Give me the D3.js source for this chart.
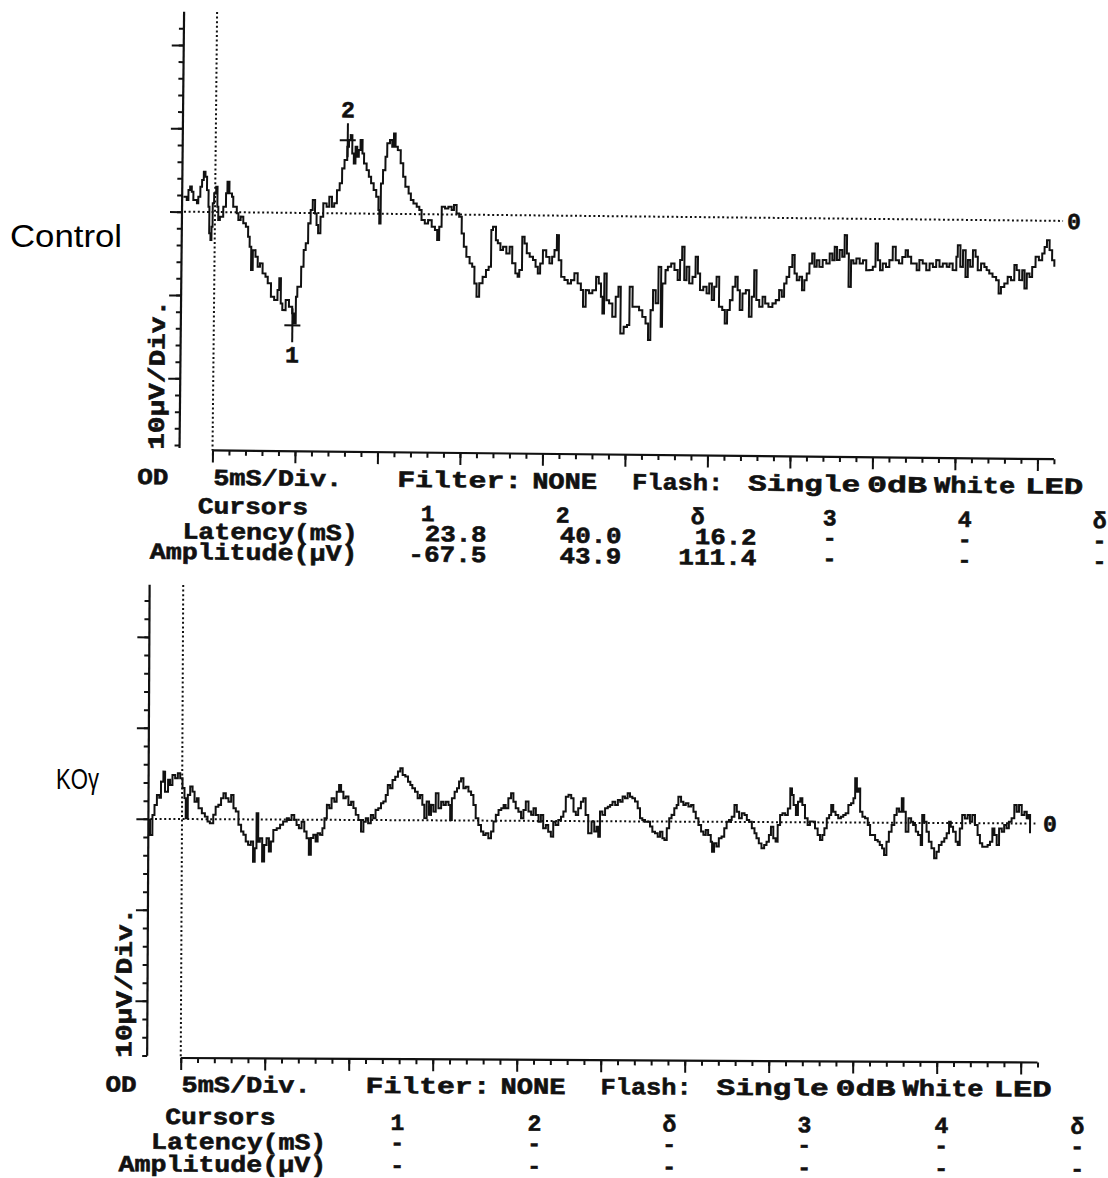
<!DOCTYPE html>
<html>
<head>
<meta charset="UTF-8"/>
<script src="https://cdn.jsdelivr.net/npm/d3@7"></script>
<style>
  body { margin: 0; background: #fff; }
  .mono { font-family: "Liberation Mono", "DejaVu Sans Mono", monospace; font-weight: bold;
          fill: #111; stroke: #111; stroke-width: 0.6; }
  .side { font-family: "Liberation Sans", Arial, sans-serif; fill: #000; }
  .trace { fill: none; stroke: #111; stroke-width: 2; stroke-linejoin: miter; }
  .axisline { stroke: #111; stroke-width: 2.2; }
  .ax line { stroke: #111; stroke-width: 2; }
  .dots { stroke: #111; stroke-width: 2; stroke-dasharray: 2 2.6; }
  .mark { stroke: #111; stroke-width: 2; }
</style>
</head>
<body>
<svg id="fig" width="1108" height="1178"></svg>
<script>
// ---- data: [time (ms), amplitude (uV)]
const controlTrace = [[-9.6,9],[-8.6,7],[-8.1,13],[-7.6,15.2],[-7.1,12],[-6.6,7.1],[-5.5,5.1],[-5.1,9.1],[-4.5,15.1],[-4,19.1],[-3.5,24.1],[-3,21.1],[-2.5,13.1],[-2,3.1],[-1.7,-12.8],[-1.3,-16.8],[-1,-8.8],[-0.7,5.2],[-0.3,11.2],[0.3,15.2],[0.7,3.2],[1,-4.8],[1.5,-2.8],[2.5,3.2],[3.3,11.3],[3.7,18.3],[4.3,11.3],[5.1,9.3],[5.5,3.3],[6.6,-0.6],[7.1,-4.6],[7.8,-2.6],[8.6,-6.6],[9.4,-8.6],
[10.1,-14.6],[10.6,-20.6],[11.1,-34.6],[11.6,-22.6],[12.4,-26.6],[13.1,-32.5],[13.8,-30.5],[14.6,-36.5],[15.5,-38.5],[16.2,-42.4],[17.2,-50.5],[18.2,-52.4],[19.2,-46.4],[19.7,-39.3],[20.2,-54.4],[20.7,-58.4],[21.7,-52.3],[22.7,-56.3],[23.7,-60.3],[24.2,-66.3],[24.8,-50.3],[25.2,-44.3],[26.3,-32.3],[27,-22.2],[27.6,-18.2],[28.3,-6.2],[29,1.8],[29.6,7.8],[30.3,-0.2],[30.8,-7.2],[31.3,-12.1],[32,-2.2],[32.8,5.9],[33.8,3.9],[34.6,9.9],[35.4,3.9],[36.1,6],[36.9,13.9],[37.7,18],[38.4,27],[39.1,32],[39.9,40],[40.4,44],[40.9,47],[41.4,36],[41.9,30],[42.4,40],[42.9,34],[43.4,38.1],[43.9,44.1],[44.5,36.1],[45,30.1],[45.8,26.1],[46.5,22.1],[47.2,18.2],[48,14.2],[48.8,10.2],[49.5,2.2],[49.8,-5.8],[50.2,18.2],[50.8,26.2],[51.5,34.2],[52,42.3],[52.8,44.3],[53.5,40.3],[54,48.3],[54.5,40.3],[55.2,38.3],[56.1,30.4],[56.9,22.4],[57.6,16.4],[58.6,12.4],[59.3,8.4],[60.1,6.4],[61.1,4.4],[61.9,2.5],[62.6,-3.5],[63.6,-5.5],[64.6,-3.5],[65.7,-7.5],[66.7,-9.4],[67.4,-15.4],[68,-7.4],[68.7,4.6],[69.7,3.6],[70.7,4.6],[71.7,2.7],[72.4,5.7],[73.2,0.7],[74,-1.3],[74.8,-11.3],[75.5,-19.3],[76.3,-25.3],[77.3,-29.2],[78.1,-31.2],[78.8,-41.2],[79.5,-49.2],[80.3,-41.1],[81.3,-37.2],[82.3,-33.1],[83.1,-31.1],[83.8,-9.1],[84.3,-7.1],[85.2,-15.1],[85.8,-17],[86.6,-21],[87.4,-19],[88.4,-23],[89.4,-19],[90.2,-28.9],[91.2,-34.9],[91.9,-36.9],[92.4,-32.9],[93.2,-12.9],[93.9,-16.9],[94.6,-22.8],[95.5,-24.8],[96.5,-26.8],[97.3,-30.8],[98,-34.8],[98.7,-28.8],[99.5,-20.8],[100.5,-24.8],[101.5,-28.7],[102.3,-24.7],[103,-20.7],[103.7,-11.7],[104.3,-26.7],[105.1,-36.7],[106.1,-38.6],[107.1,-40.6],[108.1,-38.6],[109.1,-34.5],[110.1,-40.5],[111.1,-44.5],[111.8,-54.5],[112.6,-44.5],[113.6,-46.4],[114.6,-44.5],[115.7,-36.5],[116.5,-40.4],[117.2,-48.4],[117.7,-58.4],[118.2,-34.4],[118.9,-50.4],[119.7,-52.3],[120.7,-60.3],[121.7,-48.3],[122.5,-42.3],
[123.2,-70.3],[124.2,-66.3],[125.2,-65.2],[125.9,-42.2],[126.8,-54.2],[127.8,-54.2],[128.8,-56.2],[129.8,-60.2],[130.8,-64.1],[131.6,-74.1],[132.3,-56.1],[133,-44.1],[133.8,-52],[134.6,-30.1],[135.4,-66],[135.8,-40],[136.7,-32],[137.4,-30],[138.4,-28],[139.4,-31.9],[140.4,-37.9],[141.1,-25.9],[141.7,-17.9],[142.4,-37.9],[143.1,-29.9],[143.9,-39.8],[144.9,-35.9],[145.8,-23.8],[146.5,-33.8],[147.2,-43.8],[148.2,-41.8],[149.2,-45.7],[150,-39.7],[150.8,-49.7],[151.5,-41.7],[152.2,-35.7],[153,-53.7],[154,-55.6],[154.8,-63.6],[155.5,-55.6],[156.3,-49.6],[157.1,-41.6],[157.9,-35.6],[158.6,-43.6],[159.3,-55.5],[160.1,-45.5],[161.1,-43.5],[162.1,-59.5],[162.9,-47.5],[163.6,-31.5],[164.3,-49.4],[165.2,-53.4],[166.2,-47.4],[167,-51.4],[168,-53.4],[169.2,-51.3],[170.2,-49.3],[171.2,-43.3],[172,-47.3],[172.7,-39.3],[173.4,-35.3],[174.2,-29.3],[175.1,-22.2],[175.8,-33.2],[176.5,-37.2],[177.3,-35.2],[178.1,-43.2],[178.8,-37.2],[179.5,-33.1],[180.3,-27.1],[181.1,-21.1],[181.8,-29.1],[182.5,-25.1],[183.3,-29.1],[184.3,-25],[185.4,-27],[186.4,-21],[187.2,-25],[187.9,-17],[188.6,-24.9],[189.4,-18.9],[190.2,-22.9],[190.9,-9.9],[191.6,-20.9],[192.2,-40.9],[192.9,-24.9],[193.6,-26.8],[194.5,-23.8],[195.5,-26.8],[196.5,-24.8],[197.5,-30.8],[198.5,-30.7],[199.5,-28.7],[200.3,-14.7],[201,-24.7],[201.7,-30.7],[202.5,-26.7],[203.5,-28.7],[204.5,-24.6],[205.5,-16.6],[206.4,-24.6],[207.4,-26.5],[208.4,-22.6],[209.4,-18.6],[210.1,-22.5],[211.1,-26.5],[212.1,-26.5],[212.8,-30.5],[213.6,-24.4],[214.6,-26.4],[215.7,-30.4],[216.7,-26.4],[217.7,-28.4],[218.7,-24.3],[219.7,-28.3],[220.7,-26.3],[221.9,-28.3],[222.7,-26.2],[223.7,-30.2],[224.8,-22.2],[225.2,-15.2],[226,-28.2],[226.8,-18.2],[227.6,-34.2],[228.3,-24.1],[229,-28.1],[229.8,-18.1],[230.6,-22.1],[231.3,-30.1],[232.3,-26],[233.3,-28.1],[234,-30],[234.8,-32],[235.8,-34],[236.9,-36],[237.7,-43.9],[238.4,-40],[239.4,-37.9],[240.4,-33.9],[241.4,-35.9],[242.4,-26.8],[243.1,-29.8],[243.9,-35.8],[244.8,-29.8],[245.5,-40.8],[246.2,-31.8],[247,-33.8],[247.8,-27.8],[248.8,-21.7],[249.8,-23.7],[250.8,-19.7],[251.5,-15.7],[252.2,-11.7],[253,-17.6],[253.8,-23.6],[254.5,-27.6]];

const koTrace = [[-10.1,-0.5],[-9.5,-8.8],[-8.8,2.2],[-8.2,7.7],[-7.5,13.2],[-6.8,11.6],[-6.3,20.5],[-5.6,26],[-5.1,15],[-4.2,21.5],[-3.6,18.7],[-2.9,24.2],[-2.1,22.4],[-1.3,25.2],[-0.6,22.4],[0.1,17],[0.7,11.5],[1.1,0.5],[1.7,13.3],[2.4,17.9],[3.1,15.1],[3.7,9.6],[4.4,11.5],[4.9,6],[5.9,3.3],[6.8,1.4],[7.6,-1.3],[8.3,-2.2],[9.3,2.4],[10,6.9],[10.8,7.9],[11.6,11.6],[12.3,14.3],[13,11.6],[13.8,9.7],[14.6,13.4],[15.3,6.1],[16,4.3],[16.8,-3],[17.6,-6.7],[18.3,-8.5],[19,-12.2],[19.7,-14],[20.5,-12.2],[21.2,-23.2],[21.7,-15.8],[22.2,3.4],[22.7,-12.2],[23.2,-10.3],[23.9,-23.1],[24.5,-14],[25.2,-10.3],[25.9,-17.6],[26.5,-12.1],[27.2,-5.7],[28.2,-4.8],[29.2,-2.9],[30.1,-1.1],[31.2,0.8],[31.8,-0.2],[32.6,2.6],[33.4,-0.1],[34.1,-2.9],[34.8,-4.7],[35.6,-1.1],[36.4,-6.5],[37.1,-10.2],[37.8,-19.3],[38.4,-10.1],[39.1,-8.3],[39.8,-12],[40.4,-7.4],[41.1,-8.3],[41.8,-4.6],[42.4,0.9],[43.1,8.2],[43.8,6.4],[44.5,11.9],[45.3,10],[46,15.5],[46.7,19.2],[47.3,15.5],[48,11.9],[48.7,12.8],[49.5,8.2],[50.3,10],[51,6.5],[51.7,2.8],[52.5,0],[53.3,-6.4],[54,-0.9],[54.7,1],[55.4,-1.8],[56.2,2.8],[56.9,1],[57.6,5.6],[58.4,6.5],[59.2,9.3],[59.9,10.2],[60.6,13.8],[61.2,19.3],[61.9,17.5],[62.6,22.1],[63.4,23.9],[64.2,26.7],[64.9,28.6],[65.6,24.9],[66.4,24],[67.2,21.2],[67.9,19.4],[68.5,17.6],[69.3,15.7],[70.1,12.1],[70.8,13.9],[71.5,8.5],[72.1,1.2],[72.8,10.3],[73.5,3],[74.1,8.5],[74.8,4.8],[75.5,14.9],[76.3,6.7],[77.1,10.3],[77.8,8.5],[78.5,10.3],[79.3,8.5],[79.8,0.3],[80.3,12.2],[81.1,15.8],[81.8,17.7],[82.4,21.4],[83,23.2],[83.7,17.7],[84.4,18.6],[85.2,15.9],[86,14.1],[86.7,8.6],[87.4,1.3],[88.2,-2.4],[89,-6],[89.7,-7.9],[90.4,-6.9],[91.2,-9.7],[92,-6],[92.7,-0.5],[93.4,3.2],[94.2,5.9],[95,6.9],[95.7,8.7],[96.3,6.9],[97.1,12.4],[97.9,15.1],[98.6,10.5],[99.3,6.9],[100.1,5],[100.9,1.4],[101.6,6],[102.3,10.6],[103.1,5.1],[103.9,3.3],[104.6,6.9],[105.3,3.3],[106.1,-0.4],[106.8,3.3],[107.5,-4],[108.3,-2.2],[109,-5.9],[109.8,-8.6],[110.5,-0.4],[111.2,-2.2],[112,0.6],[112.8,2.4],[113.5,5.2],[114.2,13.4],[115,14.4],[115.8,12.5],[116.5,5.2],[117.2,3.4],[117.9,7.1],[118.7,10.7],[119.4,12.6],[120.1,3.4],[120.9,-6.6],[121.9,-0.2],[122.7,-5.7],[123.4,-3],[123.9,-8.5],[124.4,5.3],[125.1,3.5],[125.9,7.1],[126.7,8],[127.4,9],[128.1,10.8],[128.9,9],[129.7,11.7],[130.4,10.8],[131.1,13.6],[131.8,12.7],[132.6,15.5],[133.3,13.6],[134,12.7],[134.8,10.9],[135.6,7.2],[136.3,1.8],[137,0.8],[137.8,-0.1],[138.6,-0.1],[139.3,-2.8],[140,-5.6],[140.8,-6.5],[141.6,-8.3],[142.3,-5.6],[143,-9.2],[143.6,-10.1],[144.3,-3.7],[145,1.8],[145.7,3.7],[146.5,7.3],[147.2,9.2],[147.7,13.7],[148.5,11],[149.2,9.2],[149.9,10.1],[150.7,8.3],[151.5,9.2],[152.2,5.5],[152.9,1.9],[153.7,-1.8],[154.5,-5.4],[155.2,-7.2],[155.9,-4.5],[156.6,-7.2],[157.4,-10.9],[157.8,-16.4],[158.4,-11.8],[159.1,-13.6],[159.8,-9],[160.6,-8.1],[161.4,-3.5],[162.1,0.1],[162.8,1.1],[163.6,2.9],[164.4,9.3],[165.1,5.6],[165.8,2],[166.6,4.8],[167.4,3.9],[168.1,1.1],[168.8,0.2],[169.6,-3.4],[170.4,-6.2],[171,-8.9],[171.7,-11.7],[172.5,-14.4],[173.3,-12.6],[174,-10.8],[174.7,-7.1],[175.3,-2.5],[176,-8.9],[176.7,-10.7],[177.3,-1.5],[178,4],[178.7,4.9],[179.5,4],[180.3,7.6],[181,18.6],[181.5,15],[182,9.5],[182.7,4],[183.3,11.3],[184,13.2],[184.6,9.5],[185.4,2.2],[186.2,-1.5],[186.9,0.4],[187.6,0.4],[188.4,-3.3],[189.2,-6.9],[189.9,-9.7],[190.6,-6.9],[191.2,-3.2],[191.9,2.3],[192.6,4.1],[193.2,9.6],[193.8,5.9],[194.5,4.1],[195.3,2.3],[196.1,3.2],[196.8,4.1],[197.5,5.1],[198.3,9.6],[199.1,10.6],[199.8,13.3],[200.3,24.3],[200.8,17],[201.3,18.8],[201.8,6],[202.5,3.2],[203.3,2.4],[204.1,-1.3],[204.8,-6.8],[205.5,-6.8],[206.3,-9.5],[207.1,-10.4],[207.7,-12.3],[208.4,-14.1],[209,-17.7],[209.7,-10.4],[210.4,-4.9],[211.2,-1.2],[212,4.3],[212.7,7.9],[213.4,6.1],[214.2,13.5],[214.7,6.1],[215.4,-4.9],[216.2,2.5],[217,0.6],[217.6,-1.2],[218.4,-4.8],[219.1,-6.7],[219.9,-12.1],[220.3,4.3],[220.9,0.7],[221.6,-4.8],[222.3,-10.3],[223.1,-13.9],[223.9,-19.4],[224.6,-15.8],[225.3,-12.1],[226.1,-10.3],[226.9,-8.4],[227.6,-5.6],[228.3,0.7],[228.8,-2],[229.5,-4.8],[230.3,-10.3],[230.9,-12],[231.5,-2.9],[232.2,4.5],[233,2.6],[233.8,4.5],[234.5,0.8],[235.2,4.5],[236,-1],[236.8,-6.5],[237.5,-11],[238.2,-12.9],[239,-12.9],[239.8,-12],[240.5,-10.1],[241.2,-2.8],[241.8,-6.4],[242.5,-11.9],[243.2,-2.8],[244,-4.6],[244.7,-0.9],[245.4,-2.7],[246.1,0.9],[246.9,2.8],[247.7,10.1],[248.4,6.4],[249.1,10.1],[249.9,4.6],[250.7,6.4],[251.4,2.8],[251.9,4.6],[252.4,-5.4]];

const cursorHeads = ["1", "2", "δ", "3", "4", "δ"];
const controlLatency = ["23.8", "40.0", "16.2", "-", "-", "-"];
const controlAmplitude = ["-67.5", "43.9", "111.4", "-", "-", "-"];
const koLatency = ["-", "-", "-", "-", "-", "-"];
const koAmplitude = ["-", "-", "-", "-", "-", "-"];
const controlCursors = [{ id: "1", t: 23.8, v: -67.5 }, { id: "2", t: 40.0, v: 43.9 }];
const infoWords = ["OD", "5mS/Div.", "Filter:", "NONE", "Flash:", "Single", "0dB", "White", "LED"];
const rowLabels = ["Cursors", "Latency(mS)", "Amplitude(μV)"];
const yUnitLabel = "10μV/Div.";
const timeRange = [-10, 255];

// ---- layout (pixels)
const infoPos = [[-75, 31], [1, 129], [185, 125], [320, 65], [420, 91], [536, 112], [655, 60], [722, 81], [813, 58]];
const pitch = 16.2;   // printer character pitch

const panels = [
  { label: "Control", lx: 10, ly: 247, lsize: 31, llen: 112,
    trace: controlTrace, lat: controlLatency, amp: controlAmplitude, cursors: controlCursors,
    xPx: [182, 1056.5], yDom: [-143, 120], yPx: [450.4, 12], yTicks: d3.range(-140, 111, 10),
    angle: 0.6, zeroEnd: 257, zeroLab: 260.3,
    rows: [34.5, 63, 68.5, 88.5, 109], cols: [216, 351, 486, 618, 753, 888], valOff: 59, curX: 41 },
  { label: "KOγ", lx: 56, ly: 789, lsize: 30, llen: 43,
    trace: koTrace, lat: koLatency, amp: koAmplitude, cursors: [],
    xPx: [148.4, 1038.8], yDom: [-131.3, 128.6], yPx: [1058, 585], yTicks: d3.range(-130, 121, 10),
    angle: 0.3, zeroEnd: 254, zeroLab: 258.3,
    rows: [34, 66, 71, 91, 113.5], cols: [217, 354, 489, 624, 761, 897], valOff: 60, curX: 40 }
];

const svg = d3.select("#fig");

// bold printer-style text, stretched to the printer pitch
function mono(g, str, x, y, anchor, len) {
  const t = g.append("text").attr("class", "mono")
      .attr("x", x).attr("y", y)
      .attr("text-anchor", anchor || "start")
      .attr("font-size", 23)
      .text(str);
  const w = len || (str.length > 1 ? str.length * pitch - 3 : 0);
  if (w) t.attr("textLength", w).attr("lengthAdjust", "spacingAndGlyphs");
  return t;
}

panels.forEach(p => {
  const x = d3.scaleLinear().domain(timeRange).range(p.xPx);
  const y = d3.scaleLinear().domain(p.yDom).range(p.yPx);
  const x0 = x(0), xa = x(timeRange[0]), yb = y(p.yDom[0]), yt = y(p.yDom[1]);

  // side label (not tilted)
  svg.append("text").attr("class", "side")
      .attr("x", p.lx).attr("y", p.ly)
      .attr("font-size", p.lsize)
      .attr("textLength", p.llen).attr("lengthAdjust", "spacingAndGlyphs")
      .text(p.label);

  // the scanned print-out is slightly tilted
  const g = svg.append("g").attr("transform", `rotate(${p.angle},${x0},${y(0)})`);

  // axes
  g.append("line").attr("class", "axisline")
      .attr("x1", xa).attr("x2", xa).attr("y1", yt).attr("y2", yb - 2);
  g.append("line").attr("class", "axisline")
      .attr("x1", x0).attr("x2", x(timeRange[1])).attr("y1", yb).attr("y2", yb);

  const yMinor = d3.axisLeft(y).tickValues(p.yTicks).tickSize(5).tickFormat("");
  const yMajor = d3.axisLeft(y).tickValues(p.yTicks.filter(v => v % 50 === 0)).tickSize(12).tickFormat("");
  [yMinor, yMajor].forEach(a => g.append("g").attr("class", "ax")
      .attr("transform", `translate(${xa},0)`).call(a)
      .call(s => s.select(".domain").remove()));

  const xMinor = d3.axisBottom(x).tickValues(d3.range(0, 256, 5)).tickSize(5).tickFormat("");
  const xMajor = d3.axisBottom(x).tickValues(d3.range(0, 256, 25)).tickSize(12).tickFormat("");
  [xMinor, xMajor].forEach(a => g.append("g").attr("class", "ax")
      .attr("transform", `translate(0,${yb})`).call(a)
      .call(s => s.select(".domain").remove()));

  // dotted stimulus and baseline lines
  g.append("line").attr("class", "dots")
      .attr("x1", x0).attr("x2", x0).attr("y1", yt).attr("y2", yb);
  g.append("line").attr("class", "dots")
      .attr("x1", xa + 2).attr("x2", x(p.zeroEnd)).attr("y1", y(0)).attr("y2", y(0));
  mono(g, "0", x(p.zeroLab), y(0) + 8, "middle");

  // trace
  const line = d3.line().x(d => x(d[0])).y(d => y(d[1])).curve(d3.curveStepAfter);
  g.append("path").attr("class", "trace").attr("d", line(p.trace));

  // cursors
  p.cursors.forEach(c => {
    const cx = x(c.t), cy = y(c.v);
    g.append("line").attr("class", "mark")
        .attr("x1", cx).attr("x2", cx).attr("y1", cy - 17).attr("y2", cy + 17);
    g.append("line").attr("class", "mark")
        .attr("x1", cx - 8).attr("x2", cx + 8).attr("y1", cy).attr("y2", cy);
    mono(g, c.id, cx, c.v < 0 ? cy + 37 : cy - 23, "middle");
  });

  // y unit label
  mono(g, yUnitLabel, 0, 0, "start", 150)
      .attr("transform", `translate(${xa - 16},${yb}) rotate(-90)`);

  // info line under the axis
  infoWords.forEach((w, i) => mono(g, w, x0 + infoPos[i][0], yb + p.rows[0], "start", infoPos[i][1]));

  // cursor table
  mono(g, rowLabels[0], x0 + p.curX, yb + p.rows[1], "middle");
  mono(g, rowLabels[1], x0 + 146, yb + p.rows[3], "end");
  mono(g, rowLabels[2], x0 + 146, yb + p.rows[4], "end");

  cursorHeads.forEach((h, i) => {
    const cx = x0 + p.cols[i];
    mono(g, h, cx, yb + p.rows[2], "middle");
    [[p.lat[i], p.rows[3]], [p.amp[i], p.rows[4]]].forEach(([val, ry]) => {
      const dash = val === "-";
      mono(g, val, dash ? cx : cx + p.valOff, yb + ry, dash ? "middle" : "end");
    });
  });
});
</script>
</body>
</html>
